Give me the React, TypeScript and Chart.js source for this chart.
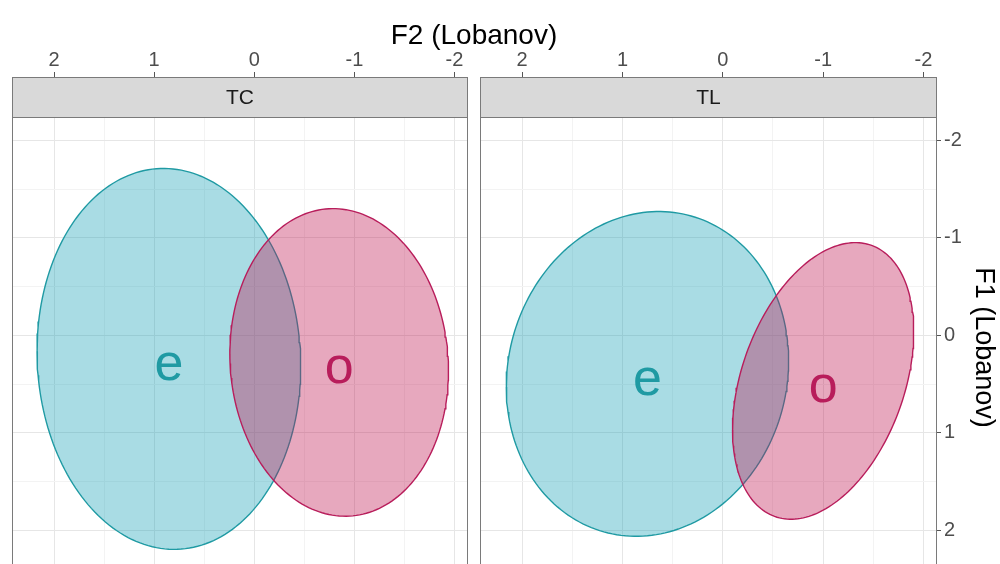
import React, { useEffect, useRef } from 'react';
import { Chart, registerables } from 'chart.js';

Chart.register(...registerables);

const FONT = '"Liberation Sans", Arial, Helvetica, sans-serif';
Chart.defaults.font.family = FONT;

// Facets and vowel categories
const panelNames = ['TC', 'TL'];
const vowelNames = ['e', 'o'];

// Ellipse summaries per facet, ordered [e, o]: centre, half-extent on each axis and F2/F1 correlation
const centreF2 = [
  [0.853, -0.848],
  [0.751, -1.0],
];
const centreF1 = [
  [0.242, 0.278],
  [0.396, 0.468],
];
const halfF2 = [
  [1.317, 1.092],
  [1.407, 0.903],
];
const halfF1 = [
  [1.954, 1.578],
  [1.666, 1.419],
];
const corrF2F1 = [
  [-0.04, -0.055],
  [0.08, 0.355],
];

// Axis breaks and limits (both axes are reversed)
const f2Breaks = [-2, -1, 0, 1, 2];
const f1Breaks = [-2, -1, 0, 1, 2];
const f2Limits = [-2.135, 2.42];
const f1Limits = [-2.24, 2.49];

const vowelStroke = ['#1f9aa3', '#b81d5b'];
const vowelFill = ['rgba(10,155,178,0.35)', 'rgba(190,20,80,0.37)'];

const withMinor = (breaks: number[]) => {
  const out = [...breaks];
  for (let i = 0; i < breaks.length - 1; i++) out.push((breaks[i] + breaks[i + 1]) / 2);
  return out.sort((a, b) => a - b);
};
const f2Grid = withMinor(f2Breaks);
const f1Grid = withMinor(f1Breaks);
const isMajor = (v: number) => Math.abs(v - Math.round(v)) < 1e-6;

function ellipsePoints(cx: number, cy: number, hx: number, hy: number, r: number, n = 200) {
  const pts: { x: number; y: number }[] = [];
  const s = Math.sqrt(1 - r * r);
  for (let i = 0; i <= n; i++) {
    const t = (2 * Math.PI * i) / n;
    pts.push({ x: cx + hx * Math.cos(t), y: cy + hy * (r * Math.cos(t) + s * Math.sin(t)) });
  }
  return pts;
}

const gridColor = (ctx: any) => (ctx.tick && isMajor(ctx.tick.value) ? '#e6e6e6' : '#f3f3f3');
const tickColor = (ctx: any) => (ctx.tick && isMajor(ctx.tick.value) ? '#555555' : 'rgba(0,0,0,0)');

const STRIP_H = 40;

const noEdgePadding = (s: any) => {
  s.paddingLeft = 0;
  s.paddingRight = 0;
  s.paddingTop = 0;
  s.paddingBottom = 0;
};

// Facet strip, panel border and vowel labels at the ellipse centres
const panelDecor = {
  id: 'panelDecor',
  afterDatasetsDraw(chart: any, _args: any, opts: any) {
    const { ctx, scales } = chart;
    const p = opts.panel;
    ctx.save();
    ctx.font = `52px ${FONT}`;
    ctx.textAlign = 'center';
    ctx.textBaseline = 'alphabetic';
    vowelNames.forEach((v, j) => {
      const px = scales.x.getPixelForValue(centreF2[p][j]);
      const py = scales.y.getPixelForValue(centreF1[p][j]);
      ctx.fillStyle = vowelStroke[j];
      ctx.fillText(v, px, py + 0.4 * 52);
    });
    ctx.restore();
  },
  afterDraw(chart: any, _args: any, opts: any) {
    const { ctx, chartArea } = chart;
    const { left, right, top, bottom } = chartArea;
    ctx.save();
    ctx.lineWidth = 1;
    ctx.strokeStyle = '#7a7a7a';
    ctx.strokeRect(Math.round(left) + 0.5, Math.round(top) + 0.5, Math.round(right - left) - 1, Math.round(bottom - top) - 1);
    const sy = Math.round(top) - STRIP_H;
    ctx.fillStyle = '#d9d9d9';
    ctx.fillRect(Math.round(left), sy, Math.round(right - left), STRIP_H);
    ctx.strokeRect(Math.round(left) + 0.5, sy + 0.5, Math.round(right - left) - 1, STRIP_H);
    ctx.fillStyle = '#1a1a1a';
    ctx.font = `21px ${FONT}`;
    ctx.textAlign = 'center';
    ctx.textBaseline = 'middle';
    ctx.fillText(opts.strip, (left + right) / 2, sy + STRIP_H / 2 + 1);
    ctx.restore();
  },
};

type PanelProps = { panel: number; width: number; height: number; padLeft: number; padRight: number; showF1: boolean };

function Panel({ panel, width, height, padLeft, padRight, showF1 }: PanelProps) {
  const ref = useRef<HTMLCanvasElement | null>(null);

  useEffect(() => {
    if (!ref.current) return;
    const datasets = [1, 0].map((j) => ({
      label: vowelNames[j],
      data: ellipsePoints(centreF2[panel][j], centreF1[panel][j], halfF2[panel][j], halfF1[panel][j], corrF2F1[panel][j]),
      showLine: true,
      fill: 'shape',
      backgroundColor: vowelFill[j],
      borderColor: vowelStroke[j],
      borderWidth: 1.4,
      pointRadius: 0,
      tension: 0,
    }));

    const chart = new Chart(ref.current, {
      type: 'scatter',
      data: { datasets } as any,
      options: {
        responsive: false,
        animation: false,
        events: [],
        layout: { padding: { left: padLeft, right: padRight, top: 0, bottom: 0 } },
        plugins: {
          legend: { display: false },
          tooltip: { enabled: false },
          panelDecor: { panel, strip: panelNames[panel] },
        } as any,
        scales: {
          x: {
            type: 'linear',
            position: 'top',
            reverse: true,
            min: f2Limits[0],
            max: f2Limits[1],
            afterBuildTicks: (s: any) => {
              s.ticks = f2Grid.map((v) => ({ value: v }));
            },
            afterFit: (s: any) => {
              s.height = 117;
              noEdgePadding(s);
            },
            ticks: {
              autoSkip: false,
              maxRotation: 0,
              padding: 0,
              color: '#4d4d4d',
              font: { size: 20 },
              callback: (v: any) => (isMajor(Number(v)) ? String(Math.round(Number(v))) : ''),
            },
            grid: { color: gridColor, lineWidth: 1, tickLength: 45, tickColor, drawTicks: true },
            border: { display: false },
          },
          y: {
            type: 'linear',
            position: 'right',
            reverse: true,
            min: f1Limits[0],
            max: f1Limits[1],
            afterBuildTicks: (s: any) => {
              s.ticks = f1Grid.map((v) => ({ value: v }));
            },
            afterFit: (s: any) => {
              s.width = showF1 ? 63 : 0;
              noEdgePadding(s);
            },
            ticks: {
              display: showF1,
              autoSkip: false,
              padding: 3,
              color: '#4d4d4d',
              font: { size: 20 },
              callback: (v: any) => (isMajor(Number(v)) ? String(Math.round(Number(v))) : ''),
            },
            grid: { color: gridColor, lineWidth: 1, tickLength: 4, tickColor, drawTicks: showF1 },
            border: { display: false },
            title: {
              display: showF1,
              text: 'F1 (Lobanov)',
              color: '#000000',
              font: { size: 27 },
              padding: 0,
            },
          },
        },
      } as any,
      plugins: [panelDecor as any],
    });
    return () => chart.destroy();
  }, [panel, width, height, padLeft, padRight, showF1]);

  return <canvas ref={ref} width={width} height={height} style={{ display: 'block' }} />;
}

export default function App() {
  return (
    <div
      style={{
        position: 'absolute',
        left: 0,
        top: 0,
        width: 1000,
        height: 564,
        overflow: 'hidden',
        background: '#ffffff',
      }}
    >
      <div style={{ position: 'absolute', left: 0, top: 0 }}>
        <Panel panel={0} width={474} height={578} padLeft={12} padRight={6} showF1={false} />
      </div>
      <div style={{ position: 'absolute', left: 474, top: 0 }}>
        <Panel panel={1} width={526} height={578} padLeft={6} padRight={0} showF1={true} />
      </div>
      <div
        style={{
          position: 'absolute',
          left: 0,
          top: 21,
          width: 948,
          textAlign: 'center',
          fontFamily: FONT,
          fontSize: 28,
          lineHeight: '28px',
          color: '#000000',
          whiteSpace: 'nowrap',
        }}
      >
        F2 (Lobanov)
      </div>
    </div>
  );
}
